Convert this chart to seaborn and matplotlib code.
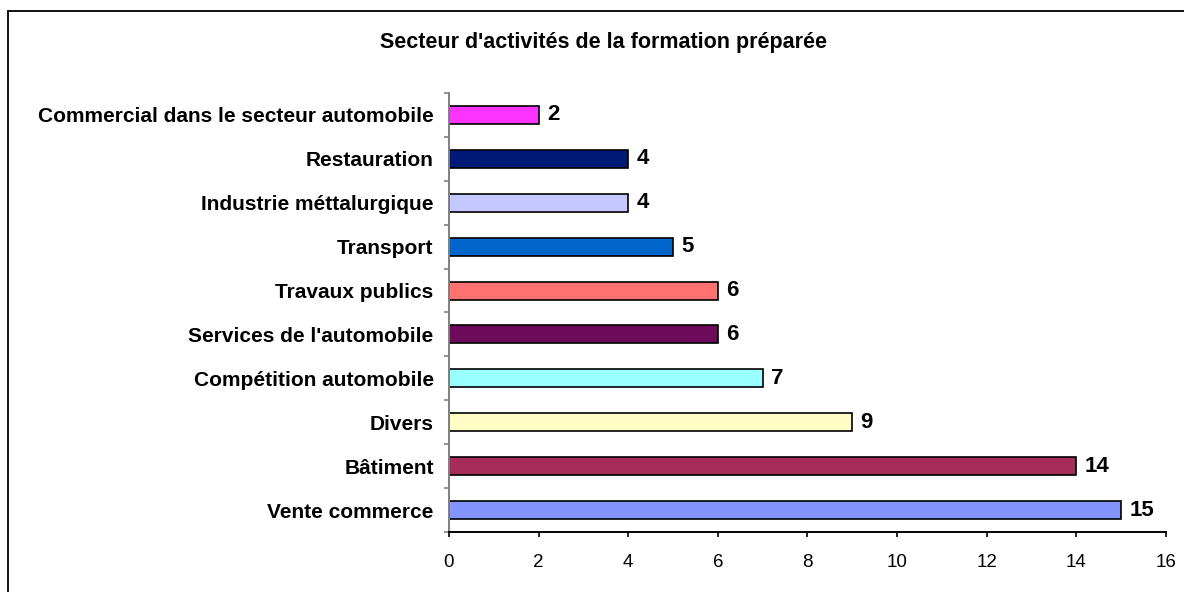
import matplotlib
matplotlib.use('Agg')
import matplotlib.pyplot as plt
import seaborn as sns
import pandas as pd

# data (top to bottom)
secteurs = ['Commercial dans le secteur automobile', 'Restauration', 'Industrie méttalurgique',
            'Transport', 'Travaux publics', "Services de l'automobile", 'Compétition automobile',
            'Divers', 'Bâtiment', 'Vente commerce']
effectifs = [2, 4, 4, 5, 6, 6, 7, 9, 14, 15]
couleurs = ['#FF33FF', '#001A78', '#C4C8FF', '#0066CC', '#FF7270', '#6E0A5A', '#99FFFF',
            '#FFFCC4', '#A82C58', '#8394FF']

df = pd.DataFrame({'secteur': secteurs, 'n': effectifs})

sns.set_style('white')
plt.rcParams['font.family'] = ['Liberation Sans', 'DejaVu Sans']
plt.rcParams['text.color'] = 'black'
plt.rcParams['xtick.color'] = 'black'
plt.rcParams['ytick.color'] = 'black'
plt.rcParams['xtick.labelcolor'] = 'black'
plt.rcParams['ytick.labelcolor'] = 'black'

fig = plt.figure(figsize=(11.84, 5.92), dpi=100)
ax = fig.add_axes([0.3792, 0.1014, 0.6056, 0.7415])

sns.barplot(data=df, y='secteur', x='n', hue='secteur', palette=couleurs, legend=False,
            orient='h', width=0.41, edgecolor='black', linewidth=1.2, saturation=1, ax=ax)

# value labels
for i, v in enumerate(effectifs):
    ax.annotate(str(v), (v, i), xytext=(6, 0), textcoords='offset points',
                va='center', ha='left', fontsize=16, fontweight='bold')

ax.set_xlim(0, 16)
ax.set_ylim(len(secteurs) - 0.5, -0.5)
ax.set_xticks(range(0, 17, 2))
ax.set_yticks([i - 0.5 for i in range(len(secteurs) + 1)])
ax.set_yticklabels([])
ax.set_yticks(range(len(secteurs)), minor=True)
ax.set_yticklabels(secteurs, minor=True, fontsize=15, fontweight='bold')
ax.tick_params(axis='y', which='minor', length=0, pad=11)
ax.tick_params(axis='y', which='major', length=3.8, width=1.2, direction='out',
               color='#808080', left=True)
ax.tick_params(axis='x', length=3.8, width=1.2, direction='out', labelsize=13.5, pad=12,
               bottom=True)
ax.set_xlabel('')
ax.set_ylabel('')

for s in ['top', 'right']:
    ax.spines[s].set_visible(False)
ax.spines['left'].set_color('#808080')
ax.spines['bottom'].set_color('black')
ax.spines['left'].set_linewidth(1.4)
ax.spines['bottom'].set_linewidth(1.4)

fig.text(0.5097, 0.919, "Secteur d'activités de la formation préparée", ha='center',
         va='baseline', fontsize=15.5, fontweight='bold')

# chart area border (runs off the right and bottom edges)
fig.add_artist(plt.Rectangle((0.0068, -0.05), 1.1, 1.0314, transform=fig.transFigure,
                             fill=False, edgecolor='black', linewidth=1.3))

fig.savefig('out.png', dpi=100)
